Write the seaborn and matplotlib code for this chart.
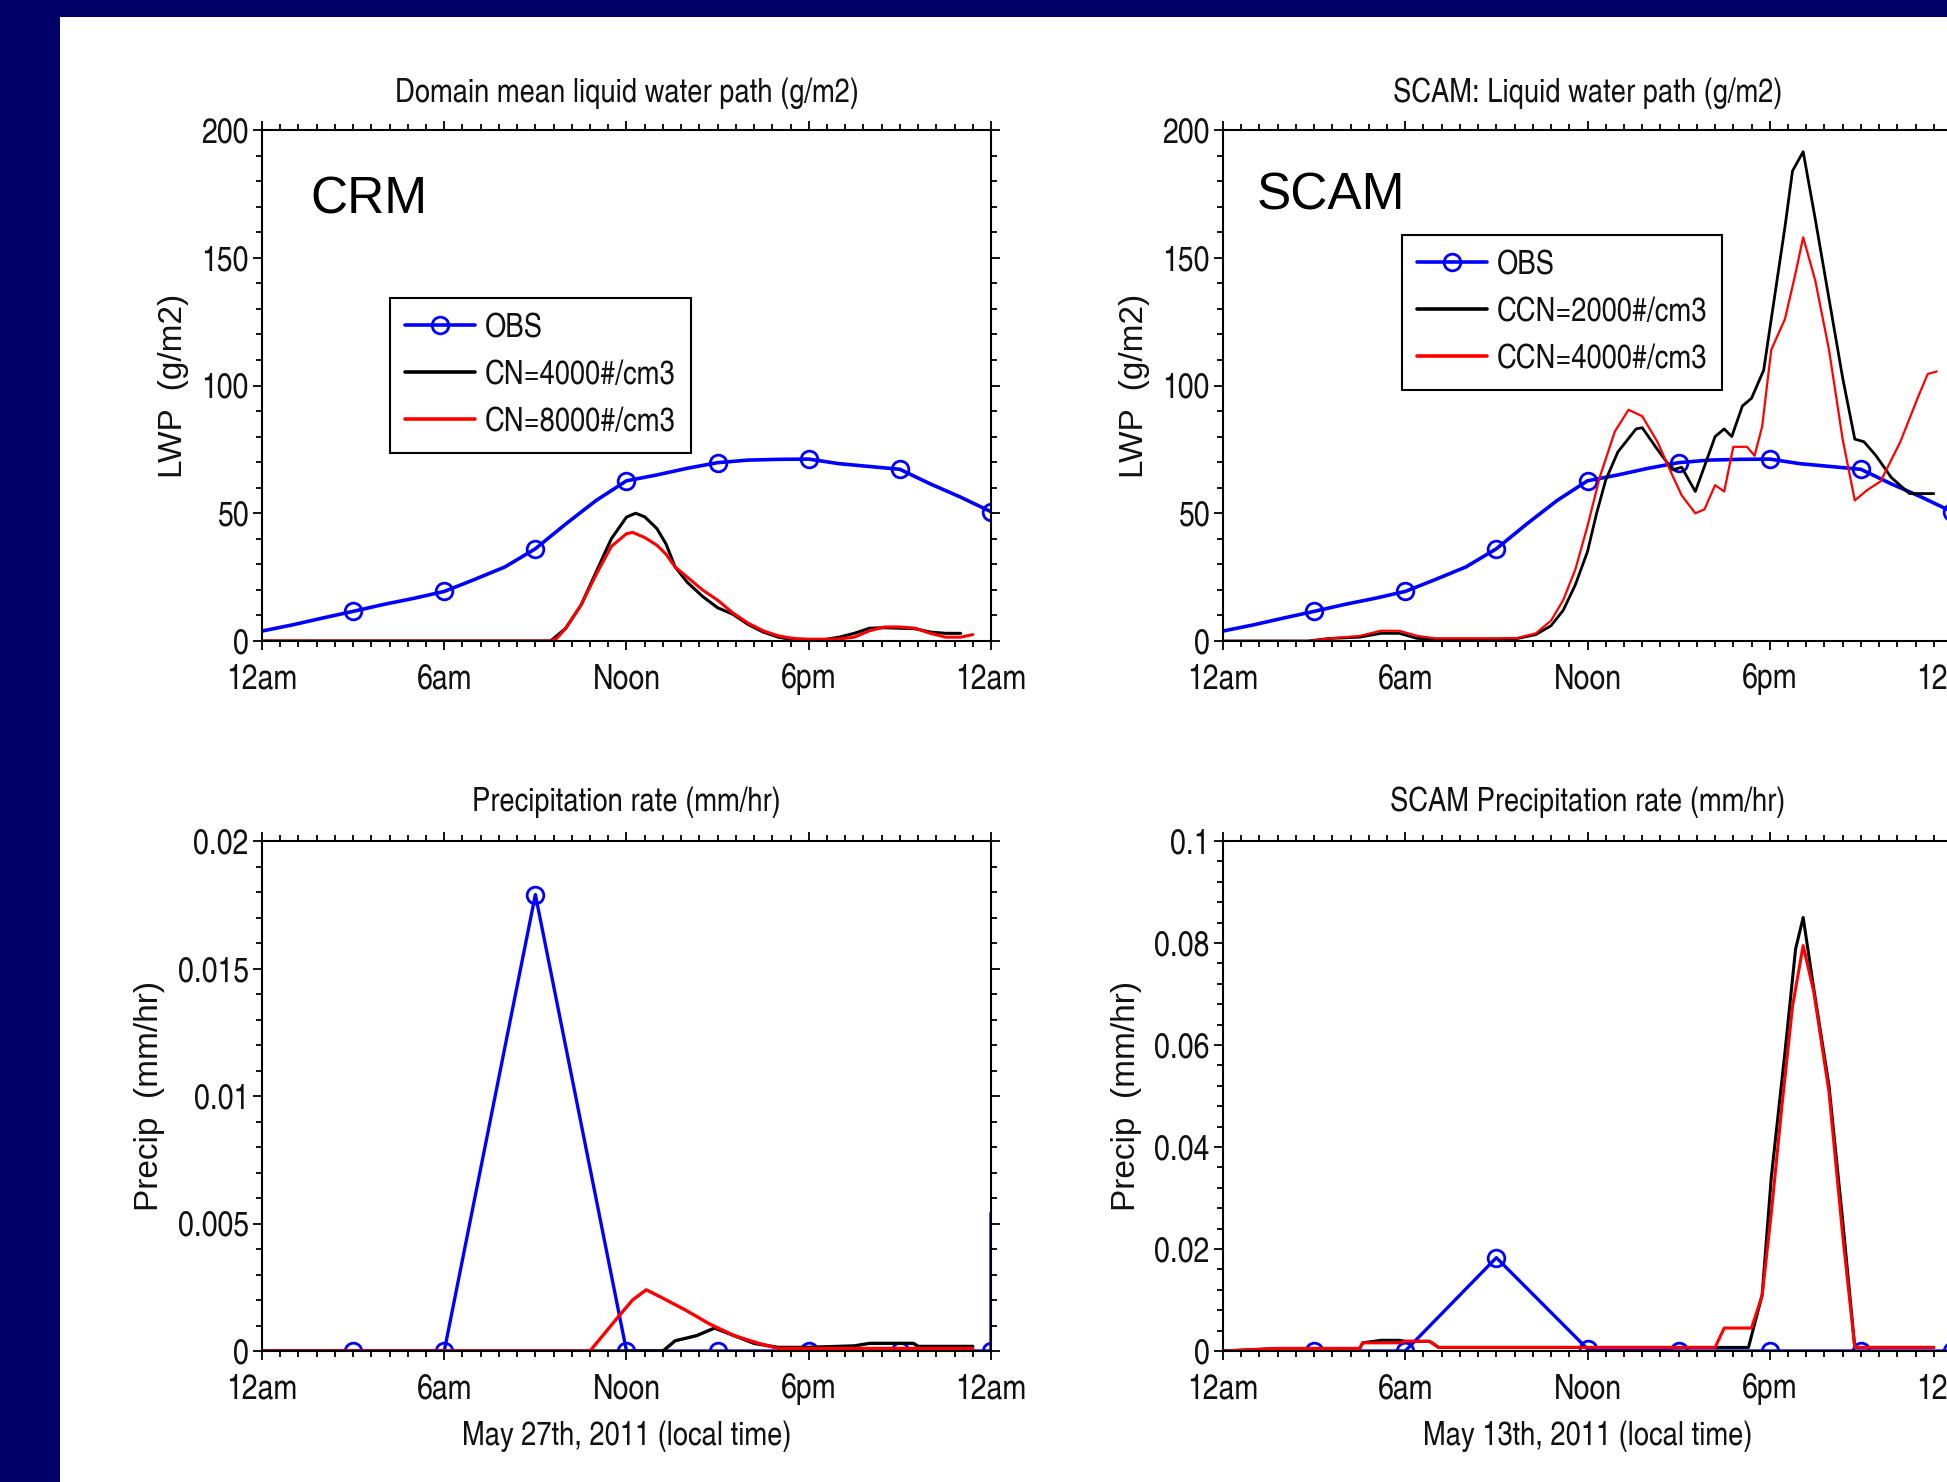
import pandas as pd
import matplotlib
matplotlib.use("Agg")
import matplotlib.pyplot as plt
from matplotlib import font_manager
from matplotlib.lines import Line2D
from matplotlib.patches import Rectangle
from matplotlib.ticker import MultipleLocator
import seaborn as sns

# ---- data ----
hour_ticks = [0, 6, 12, 18, 24]
hour_labels = ['12am', '6am', 'Noon', '6pm', '12am']

# observed LWP (hourly), same curve in both top panels
obs_hours = list(range(25))
obs_lwp = [3.9, 6.3, 9.0, 11.6, 14.3, 16.7, 19.4, 24.1, 29.0, 36.1, 45.8, 55.0, 62.7,
           65.0, 67.6, 69.8, 70.8, 71.1, 71.2, 69.4, 68.3, 67.2, 61.5, 56.3, 50.6]

# observed precip (3-hourly), last pair is the spike drawn at the right edge
obs_pr_hours = [0, 3, 6, 9, 12, 15, 18, 21, 24, 24]
obs_pr_crm = [0, 0, 0, 0.0179, 0, 0, 0, 0, 0, 0.0054]
obs_pr_hours_scam = [0, 3, 6, 9, 12, 15, 18, 21, 24]
obs_pr_scam = [0, 0, 0, 0.0183, 0.0004, 0, 0, 0, 0]

# CRM LWP
crm_t_cn4000 = [0, 9.5, 10, 10.5, 11, 11.5, 12, 12.3, 12.6, 13, 13.3, 13.6, 14, 14.5, 15, 15.5,
                16, 16.5, 17, 17.5, 18, 18.5, 19, 19.5, 20, 20.5, 21, 21.5, 22, 22.5, 23]
crm_lwp_cn4000 = [0, 0, 5, 14, 27, 40, 48.5, 50, 48.6, 44, 38, 29, 23, 17.5, 13, 10.5,
                  6.5, 3.5, 1.5, 0.5, 0.3, 0.5, 1.5, 3, 5, 5.2, 5, 4.8, 3.5, 3, 3]
crm_t_cn8000 = [0, 9.5, 9.7, 10, 10.5, 11, 11.5, 12, 12.2, 12.6, 13, 13.3, 13.6, 14, 14.5, 15,
                15.5, 16, 16.5, 17, 17.5, 18, 18.5, 19, 19.5, 20, 20.5, 21, 21.5, 22, 22.5, 23, 23.4]
crm_lwp_cn8000 = [0, 0, 1, 5, 14, 26, 37, 42, 42.5, 40.5, 37.5, 34, 29, 25, 20, 16,
                  11, 7, 4, 2, 1, 0.7, 0.7, 0.8, 1.5, 4, 5.5, 5.5, 5, 3, 1.5, 1.5, 2.5]

# SCAM LWP
scam_t_ccn2000 = [0, 2.8, 3.5, 4.5, 5.2, 5.8, 6.4, 7, 8, 9, 9.7, 10.3, 10.8, 11.2, 11.6, 12,
                  12.3, 12.6, 13, 13.6, 13.8, 14.3, 14.8, 15.1, 15.55, 15.9, 16.2, 16.5, 16.75,
                  17.1, 17.4, 17.8, 18.05, 18.5, 18.75, 19.1, 19.5, 19.95, 20.4, 20.8, 21.1,
                  21.5, 22, 22.6, 23.4]
scam_lwp_ccn2000 = [0, 0, 1, 1.5, 3, 3, 1, 0.8, 0.8, 0.8, 1, 2.5, 6, 12, 22, 35,
                    50, 63, 74, 83, 83.5, 75, 67, 68, 58.5, 70, 80, 83, 80,
                    92, 95, 106, 126, 162, 184, 191.5, 165, 134, 103, 79, 78,
                    72.5, 64, 57.7, 57.7]
scam_t_ccn4000 = [0, 2.8, 3.5, 4.5, 5.2, 5.8, 6.4, 7, 8, 9, 9.7, 10.3, 10.8, 11.2, 11.6, 12,
                  12.4, 12.9, 13.35, 13.8, 14.3, 14.75, 15.1, 15.55, 15.85, 16.2, 16.5, 16.8,
                  17.25, 17.5, 17.75, 18.05, 18.5, 18.85, 19.1, 19.5, 19.95, 20.4, 20.8, 21.2,
                  21.65, 22.3, 22.9, 23.2, 23.5]
scam_lwp_ccn4000 = [0, 0, 1, 2, 4, 4, 2, 1, 1, 1, 1.2, 3, 8, 16, 28, 45,
                    64, 82, 90.5, 88, 78, 66, 57, 50, 51.5, 61, 58.5, 76,
                    76, 72.5, 84, 114, 126, 144, 158, 141, 114, 79, 55, 59,
                    62.5, 78, 96, 104.5, 105.5]

# CRM precip
crm_pr_t_cn4000 = [0, 13.2, 13.6, 14.3, 14.9, 15.55, 16.2, 17, 17.9, 19.5, 20, 21.45, 21.6, 23.4]
crm_pr_cn4000 = [0, 0, 0.0004, 0.0006, 0.0009, 0.0006, 0.0003, 0.00014, 0.00014, 0.0002,
                 0.0003, 0.0003, 0.00018, 0.00018]
crm_pr_t_cn8000 = [0, 10.8, 11.7, 12.2, 12.65, 13.15, 13.95, 14.75, 15.55, 16.35, 17, 23.4]
crm_pr_cn8000 = [0, 0, 0.0013, 0.002, 0.0024, 0.0021, 0.0016, 0.00105, 0.0006, 0.0003,
                 0.0001, 0.0001]

# SCAM precip
scam_pr_t_ccn2000 = [0, 1.8, 4.5, 4.6, 5.2, 5.8, 6, 6.8, 7.1, 16.2, 17.3, 17.75, 18.05, 18.5,
                     18.85, 19.1, 19.45, 19.95, 20.4, 20.8, 23.4]
scam_pr_ccn2000 = [0, 0.0005, 0.0005, 0.0016, 0.0021, 0.0021, 0.0019, 0.0019, 0.0007, 0.0007,
                   0.0007, 0.011, 0.034, 0.0585, 0.0788, 0.085, 0.071, 0.052, 0.0256, 0.0007, 0.0007]
scam_pr_t_ccn4000 = [0, 1.8, 4.5, 4.6, 5.8, 6, 6.8, 7.1, 16.2, 16.5, 17.4, 17.75, 18.05, 18.4,
                     18.75, 19.1, 19.45, 19.95, 20.4, 20.8, 23.4]
scam_pr_ccn4000 = [0, 0.0005, 0.0005, 0.0016, 0.0016, 0.0019, 0.0019, 0.0007, 0.0007, 0.0045,
                   0.0045, 0.0109, 0.027, 0.048, 0.0676, 0.0795, 0.0704, 0.0508, 0.0228, 0.0007, 0.0007]

lwp_yticks = [0, 50, 100, 150, 200]
lwp_ylabels = ['0', '50', '100', '150', '200']
crm_pr_yticks = [0, 0.005, 0.01, 0.015, 0.02]
crm_pr_ylabels = ['0', '0.005', '0.01', '0.015', '0.02']
scam_pr_yticks = [0, 0.02, 0.04, 0.06, 0.08, 0.1]
scam_pr_ylabels = ['0', '0.02', '0.04', '0.06', '0.08', '0.1']

# ---- fonts: a narrow sans for most text, a normal one for y labels ----
sns.set_style("ticks")
fonts = font_manager.fontManager.ttflist
names = {f.name for f in fonts}
NARROW = 'DejaVu Sans'
if 'Liberation Sans Narrow' in names:
    NARROW = 'Liberation Sans Narrow'
else:
    for f in fonts:
        if 'texgyreheroscn-regular' in f.fname.lower():
            NARROW = f.name
            break
REGULAR = 'Liberation Sans' if 'Liberation Sans' in names else 'DejaVu Sans'
plt.rcParams['font.family'] = [NARROW, 'DejaVu Sans']

W, H = 1947, 1482
fig = plt.figure(figsize=(W / 100, H / 100), dpi=100, facecolor='#000066')
fig.add_artist(Rectangle((60 / W, 0), 1, 1 - 17 / H, transform=fig.transFigure,
                         facecolor='white', edgecolor='none', zorder=-10))

ax_w, ax_h = 729 / W, 511 / H
ax_tl = fig.add_axes([262 / W, 1 - 641 / H, ax_w, ax_h])
ax_tr = fig.add_axes([1223 / W, 1 - 641 / H, ax_w, ax_h])
ax_bl = fig.add_axes([262 / W, 1 - 1351 / H, ax_w, 510 / H])
ax_br = fig.add_axes([1223 / W, 1 - 1351 / H, ax_w, 510 / H])


def line(ax, t, v, color, lw, **kw):
    df = pd.DataFrame({'t': t, 'v': v})
    sns.lineplot(data=df, x='t', y='v', color=color, linewidth=lw, estimator=None,
                 sort=False, legend=False, ax=ax, **kw)


obs_kw = dict(marker='o', mfc='none', markeredgecolor='blue', markeredgewidth=2.0,
              markersize=12)

# top left: CRM LWP
line(ax_tl, obs_hours, obs_lwp, 'blue', 2.6, markevery=list(range(3, 25, 3)), **obs_kw)
line(ax_tl, crm_t_cn4000, crm_lwp_cn4000, 'black', 2.2)
line(ax_tl, crm_t_cn8000, crm_lwp_cn8000, 'red', 2.2)

# top right: SCAM LWP
line(ax_tr, obs_hours, obs_lwp, 'blue', 2.6, markevery=list(range(3, 25, 3)), **obs_kw)
line(ax_tr, scam_t_ccn2000, scam_lwp_ccn2000, 'black', 2.0)
line(ax_tr, scam_t_ccn4000, scam_lwp_ccn4000, 'red', 1.6)

# bottom left: CRM precip
line(ax_bl, obs_pr_hours, obs_pr_crm, 'blue', 2.4, markevery=list(range(1, 9)), **obs_kw)
line(ax_bl, crm_pr_t_cn4000, crm_pr_cn4000, 'black', 2.4)
line(ax_bl, crm_pr_t_cn8000, crm_pr_cn8000, 'red', 2.4)

# bottom right: SCAM precip
line(ax_br, obs_pr_hours_scam, obs_pr_scam, 'blue', 2.4, markevery=list(range(1, 9)), **obs_kw)
line(ax_br, scam_pr_t_ccn2000, scam_pr_ccn2000, 'black', 2.2)
line(ax_br, scam_pr_t_ccn4000, scam_pr_ccn4000, 'red', 2.2)

setup = [
    (ax_tl, lwp_yticks, lwp_ylabels, 10, 'Domain mean liquid water path (g/m2)', 'LWP  (g/m2)', None, 20),
    (ax_tr, lwp_yticks, lwp_ylabels, 10, 'SCAM: Liquid water path (g/m2)', 'LWP  (g/m2)', None, 20),
    (ax_bl, crm_pr_yticks, crm_pr_ylabels, 0.001, 'Precipitation rate (mm/hr)', 'Precip  (mm/hr)',
     'May 27th, 2011 (local time)', 21.5),
    (ax_br, scam_pr_yticks, scam_pr_ylabels, 0.004, 'SCAM Precipitation rate (mm/hr)', 'Precip  (mm/hr)',
     'May 13th, 2011 (local time)', 21.5),
]
for ax, yt, yl, ymin, title, ylab, xlab, tpad in setup:
    ax.set_facecolor('white')
    ax.set_xlim(0, 24)
    ax.set_ylim(yt[0], yt[-1])
    ax.set_xticks(hour_ticks, labels=hour_labels)
    ax.set_yticks(yt, labels=yl)
    ax.xaxis.set_minor_locator(MultipleLocator(0.6))
    ax.yaxis.set_minor_locator(MultipleLocator(ymin))
    ax.tick_params(which='both', direction='out', top=True, right=True, width=1.3,
                   colors='black', labelcolor='#111111')
    ax.tick_params(which='major', length=6.5, labelsize=25)
    ax.tick_params(which='minor', length=4.2)
    ax.tick_params(axis='x', which='major', pad=9.5)
    ax.tick_params(axis='y', which='major', pad=3)
    for s in ax.spines.values():
        s.set_visible(True)
        s.set_linewidth(1.5)
        s.set_color('black')
    ax.set_title(title, fontsize=24, pad=tpad, color='#111111')
    ax.set_ylabel(ylab, family=[REGULAR, 'DejaVu Sans'], fontsize=24, labelpad=9, color='#111111')
    ax.set_xlabel(xlab if xlab else '', fontsize=24, labelpad=11, color='#111111')

ax_tl.text(0.066, 0.836, 'CRM', transform=ax_tl.transAxes, fontsize=37,
           family=[REGULAR, 'DejaVu Sans'], color='black')
ax_tr.text(0.046, 0.845, 'SCAM', transform=ax_tr.transAxes, fontsize=37,
           family=[REGULAR, 'DejaVu Sans'], color='black')


def make_legend(ax, labels, anchor):
    handles = [
        Line2D([], [], color='blue', lw=2.6, marker='o', mfc='none', mec='blue', mew=2, ms=12),
        Line2D([], [], color='black', lw=2.6),
        Line2D([], [], color='red', lw=2.6),
    ]
    leg = ax.legend(handles, labels, loc='upper left', bbox_to_anchor=anchor, borderaxespad=0,
                    frameon=True, fancybox=False, framealpha=1, edgecolor='black', fontsize=24,
                    handlelength=2.1, handletextpad=0.3, borderpad=0.45, labelspacing=0.48)
    leg.get_frame().set_linewidth(1.5)
    for txt in leg.get_texts():
        txt.set_color('#111111')


make_legend(ax_tl, ['OBS', 'CN=4000#/cm3', 'CN=8000#/cm3'], (0.1756, 0.671))
make_legend(ax_tr, ['OBS', 'CCN=2000#/cm3', 'CCN=4000#/cm3'], (0.2455, 0.7945))

fig.savefig('out.png', dpi=100, facecolor=fig.get_facecolor())
